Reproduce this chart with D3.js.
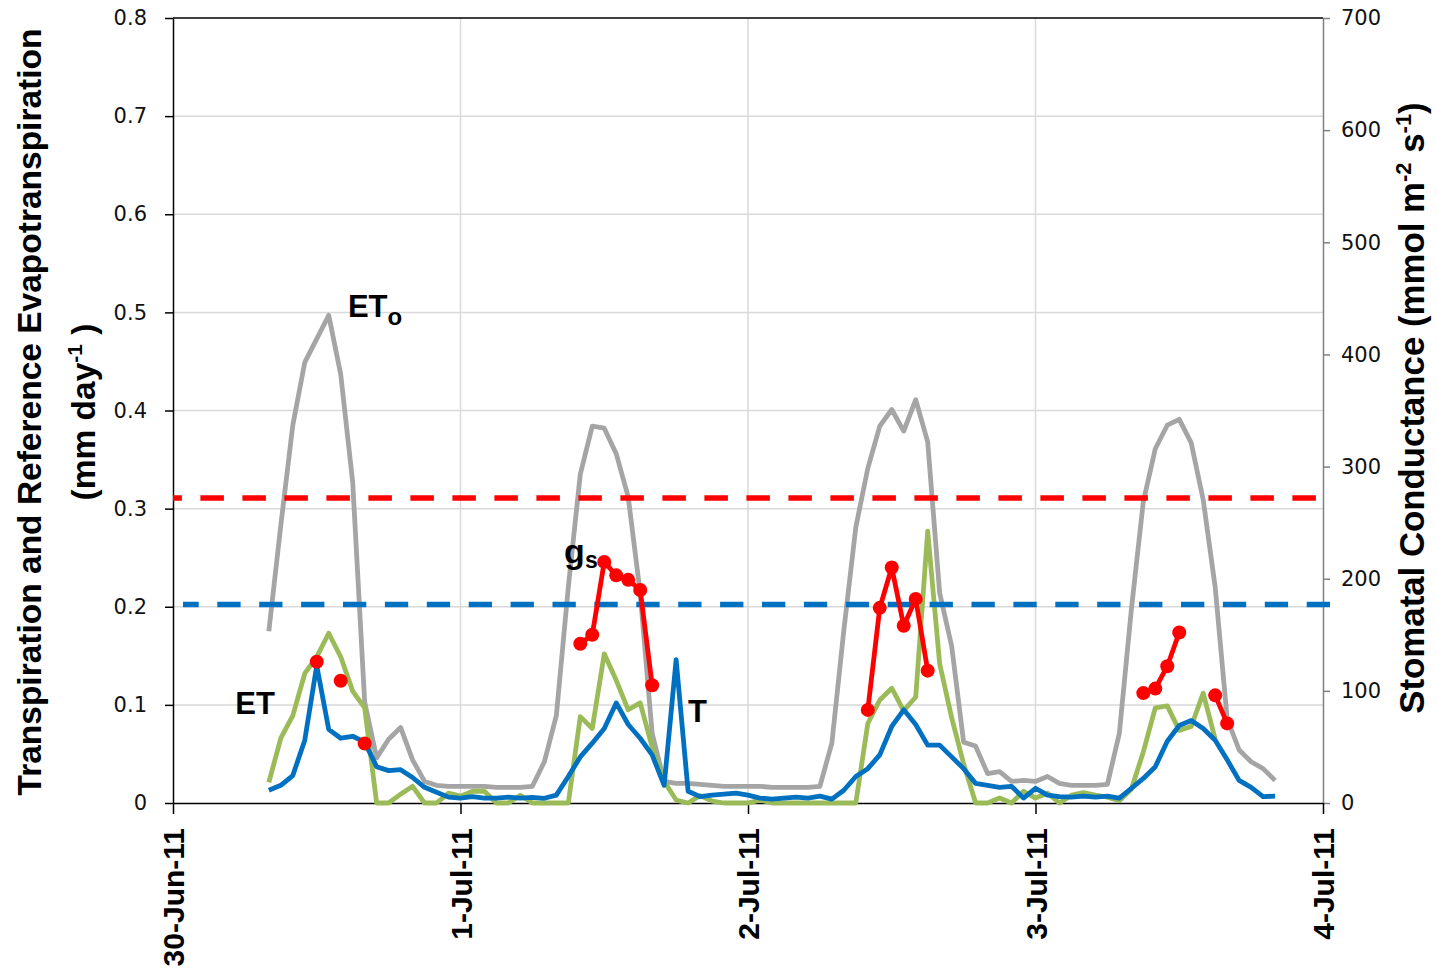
<!DOCTYPE html>
<html>
<head>
<meta charset="utf-8">
<script src="https://cdn.jsdelivr.net/npm/d3@7"></script>
<style>
  body { margin: 0; background: #fff; }
  svg { display: block; }
  .ytick text { font-family: "DejaVu Sans", Verdana, sans-serif; font-size: 21px; fill: #111; }
  .xtick text { font-family: "Liberation Sans", Arial, sans-serif; font-size: 30px; font-weight: bold; fill: #000; }
  .title, .note { font-family: "Liberation Sans", Arial, sans-serif; font-weight: bold; fill: #000; }
</style>
</head>
<body>
<svg id="chart" width="1437" height="969"></svg>
<script>

// hourly series, starting 30-Jun-11 08:00
const startDate = new Date(2011, 5, 30);
const firstHour = 8;

const etoValues = [
  0.175, 0.283, 0.385, 0.449, 0.473, 0.497, 0.437, 0.327, 0.103, 0.046, 0.065, 0.077, 0.044, 0.022, 0.018, 0.017,
  0.017, 0.017, 0.017, 0.016, 0.016, 0.016, 0.017, 0.042, 0.089, 0.220, 0.335, 0.384, 0.382, 0.356, 0.312, 0.214,
  0.071, 0.022, 0.020, 0.020, 0.019, 0.018, 0.017, 0.017, 0.017, 0.017, 0.016, 0.016, 0.016, 0.016, 0.017, 0.061,
  0.176, 0.281, 0.341, 0.384, 0.401, 0.379, 0.411, 0.368, 0.214, 0.160, 0.062, 0.058, 0.030, 0.032, 0.022, 0.023,
  0.022, 0.027, 0.020, 0.018, 0.018, 0.018, 0.019, 0.071, 0.197, 0.307, 0.361, 0.385, 0.391, 0.367, 0.309, 0.220,
  0.086, 0.054, 0.042, 0.035, 0.023
];

const tValues = [
  0.013, 0.018, 0.028, 0.064, 0.140, 0.075, 0.066, 0.068, 0.062, 0.037, 0.033, 0.034, 0.026, 0.016, 0.011, 0.006,
  0.005, 0.0065, 0.005, 0.005, 0.006, 0.005, 0.0058, 0.0048, 0.008, 0.027, 0.047, 0.061, 0.076, 0.102, 0.080, 0.066,
  0.049, 0.018, 0.146, 0.012, 0.0065, 0.008, 0.009, 0.010, 0.008, 0.005, 0.004, 0.005, 0.006, 0.005, 0.007, 0.004,
  0.013, 0.027, 0.035, 0.049, 0.078, 0.095, 0.080, 0.059, 0.059, 0.047, 0.035, 0.020, 0.018, 0.016, 0.017, 0.005,
  0.015, 0.008, 0.0065, 0.006, 0.007, 0.006, 0.007, 0.005, 0.015, 0.025, 0.037, 0.063, 0.079, 0.084, 0.076, 0.064,
  0.044, 0.023, 0.016, 0.0065, 0.007
];

const etValues = [
  0.021, 0.066, 0.089, 0.132, 0.149, 0.173, 0.149, 0.114, 0.097, 0, 0, 0.009, 0.017, 0, 0, 0.010,
  0.007, 0.012, 0.012, 0, 0, 0.008, 0, 0, 0, 0, 0.088, 0.076, 0.152, 0.125, 0.095, 0.102,
  0.057, 0.022, 0.003, 0, 0.0075, 0.002, 0, 0, 0, 0.003, 0, 0, 0, 0, 0, 0,
  0, 0, 0.081, 0.105, 0.117, 0.094, 0.108, 0.277, 0.142, 0.087, 0.040, 0, 0, 0.005, 0, 0.012,
  0.005, 0.010, 0, 0.008, 0.0105, 0.008, 0.006, 0.0024, 0.014, 0.052, 0.097, 0.099, 0.074, 0.078, 0.112, 0.065
];

// stomatal conductance, right axis
const gsHours  = [12, 14, 16, 34, 35, 36, 37, 38, 39, 40, 58, 59, 60, 61, 62, 63, 81, 82, 83, 84, 87, 88];
const gsValues = [126, 109, 53, 142, 150, 215, 203, 199, 190, 105, 83, 174, 210, 158, 182, 118, 98, 102, 122, 152, 96, 71];
const gsUpper = 272;
const gsLower = 177;

const leftTicks = [0, 0.1, 0.2, 0.3, 0.4, 0.5, 0.6, 0.7, 0.8];
const rightTicks = [0, 100, 200, 300, 400, 500, 600, 700];
const dayTicks = [0, 1, 2, 3, 4].map(d => d3.timeDay.offset(startDate, d));

const svg = d3.select("#chart");

const x = d3.scaleTime().domain([dayTicks[0], dayTicks[4]]).range([173, 1323]);
const yL = d3.scaleLinear().domain([0, 0.8]).range([803, 18]);
const yR = d3.scaleLinear().domain([0, 700]).range([803, 18]);
const hourDate = h => new Date(+startDate + h * 3600e3);

// grid
svg.append("g")
  .selectAll("line")
  .data(leftTicks.slice(1, -1))
  .join("line")
  .attr("x1", x.range()[0]).attr("x2", x.range()[1])
  .attr("y1", d => yL(d)).attr("y2", d => yL(d))
  .attr("stroke", "#d9d9d9").attr("stroke-width", 1.5);

svg.append("g")
  .selectAll("line")
  .data(dayTicks.slice(1, -1))
  .join("line")
  .attr("x1", d => x(d)).attr("x2", d => x(d))
  .attr("y1", yL.range()[1]).attr("y2", yL.range()[0])
  .attr("stroke", "#d9d9d9").attr("stroke-width", 1.5);

// top border
svg.append("line")
  .attr("x1", x.range()[0]).attr("x2", x.range()[1])
  .attr("y1", yL.range()[1]).attr("y2", yL.range()[1])
  .attr("stroke", "#000").attr("stroke-width", 1.5);

// axes
const leftAxis = svg.append("g")
  .attr("class", "ytick")
  .attr("transform", `translate(${x.range()[0]},0)`)
  .call(d3.axisLeft(yL).tickValues(leftTicks).tickSize(8).tickSizeOuter(0).tickPadding(18)
    .tickFormat(d => d === 0 ? "0" : d3.format(".1f")(d)));
leftAxis.selectAll("path, line").attr("stroke", "#000").attr("stroke-width", 1.5);

const rightAxis = svg.append("g")
  .attr("class", "ytick")
  .attr("transform", `translate(${x.range()[1]},0)`)
  .call(d3.axisRight(yR).tickValues(rightTicks).tickSize(7).tickSizeOuter(0).tickPadding(11));
rightAxis.selectAll("path, line").attr("stroke", "#808080").attr("stroke-width", 1.5);

const bottomAxis = svg.append("g")
  .attr("class", "xtick")
  .attr("transform", `translate(0,${yL.range()[0]})`)
  .call(d3.axisBottom(x).tickValues(dayTicks).tickSize(11).tickSizeOuter(0)
    .tickFormat(d3.timeFormat("%-d-%b-%y")));
bottomAxis.selectAll("path, line").attr("stroke", "#000").attr("stroke-width", 1.5);
bottomAxis.selectAll("text")
  .attr("transform", "rotate(-90)")
  .attr("text-anchor", "end")
  .attr("x", -25)
  .attr("y", 0)
  .attr("dy", "0.36em");

// series
const seriesLine = (values) => d3.line()
  .x((d, i) => x(hourDate(firstHour + i)))
  .y(d => yL(d))(values);

svg.append("path")
  .attr("d", seriesLine(etoValues))
  .attr("fill", "none").attr("stroke", "#a5a5a5").attr("stroke-width", 4.8)
  .attr("stroke-linejoin", "round");

svg.append("path")
  .attr("d", seriesLine(etValues))
  .attr("fill", "none").attr("stroke", "#9bbb59").attr("stroke-width", 4.8)
  .attr("stroke-linejoin", "round");

svg.append("path")
  .attr("d", seriesLine(tValues))
  .attr("fill", "none").attr("stroke", "#0070c0").attr("stroke-width", 4.8)
  .attr("stroke-linejoin", "round");

// gs thresholds
svg.append("line")
  .attr("x1", x.range()[0]).attr("x2", x.range()[1] - 7)
  .attr("y1", yR(gsUpper)).attr("y2", yR(gsUpper))
  .attr("stroke", "#ff0000").attr("stroke-width", 5.5)
  .attr("stroke-dasharray", "23.5 18.5").attr("stroke-dashoffset", 14.6);

svg.append("line")
  .attr("x1", x.range()[0] + 10).attr("x2", x.range()[1] + 7)
  .attr("y1", yR(gsLower)).attr("y2", yR(gsLower))
  .attr("stroke", "#0070c0").attr("stroke-width", 5.5)
  .attr("stroke-dasharray", "23.3 18.6").attr("stroke-dashoffset", 7.6);

// gs: hourly slots so consecutive hours join up
const gsByHour = new Map(gsHours.map((h, i) => [h, gsValues[i]]));
const gsSlots = d3.range(gsHours[0], gsHours[gsHours.length - 1] + 1)
  .map(h => ({ h: h, v: gsByHour.has(h) ? gsByHour.get(h) : null }));

svg.append("path")
  .attr("d", d3.line().defined(d => d.v !== null)
    .x(d => x(hourDate(d.h))).y(d => yR(d.v))(gsSlots))
  .attr("fill", "none").attr("stroke", "#ff0000").attr("stroke-width", 4.8)
  .attr("stroke-linejoin", "round");

svg.append("g")
  .selectAll("circle")
  .data(gsHours)
  .join("circle")
  .attr("cx", d => x(hourDate(d)))
  .attr("cy", (d, i) => yR(gsValues[i]))
  .attr("r", 7)
  .attr("fill", "#ff0000");

// labels on the curves
const note = (h, v, main, size, sub, subSize, subDy) => {
  const t = svg.append("text").attr("class", "note")
    .attr("x", x(hourDate(h))).attr("y", yL(v)).attr("font-size", size);
  t.append("tspan").text(main);
  if (sub) t.append("tspan").attr("font-size", subSize).attr("dy", subDy).text(sub);
};
note(14.6, 0.495, "ET", 31, "o", 24, 8);
note(5.2, 0.091, "ET", 31);
note(43.0, 0.083, "T", 31);
note(32.65, 0.245, "g", 34, "s", 23, 5);

// axis titles
const leftTitle = svg.append("g").attr("transform", "translate(41,412) rotate(-90)");
leftTitle.append("text").attr("class", "title")
  .attr("text-anchor", "middle").attr("font-size", 33.5)
  .text("Transpiration and Reference Evapotranspiration");
const unitL = leftTitle.append("text").attr("class", "title")
  .attr("text-anchor", "middle").attr("y", 54).attr("font-size", 33.5);
unitL.append("tspan").text("(mm day");
unitL.append("tspan").attr("font-size", 21).attr("dy", -13).text("-1");
unitL.append("tspan").attr("dy", 13).text(" )");

const rightTitle = svg.append("text").attr("class", "title")
  .attr("transform", "translate(1424,408) rotate(-90)")
  .attr("text-anchor", "middle").attr("font-size", 34.8);
rightTitle.append("tspan").text("Stomatal Conductance (mmol m");
rightTitle.append("tspan").attr("font-size", 22).attr("dy", -13).text("-2");
rightTitle.append("tspan").attr("dy", 13).text(" s");
rightTitle.append("tspan").attr("font-size", 22).attr("dy", -13).text("-1");
rightTitle.append("tspan").attr("dy", 13).text(")");

</script>
</body>
</html>
